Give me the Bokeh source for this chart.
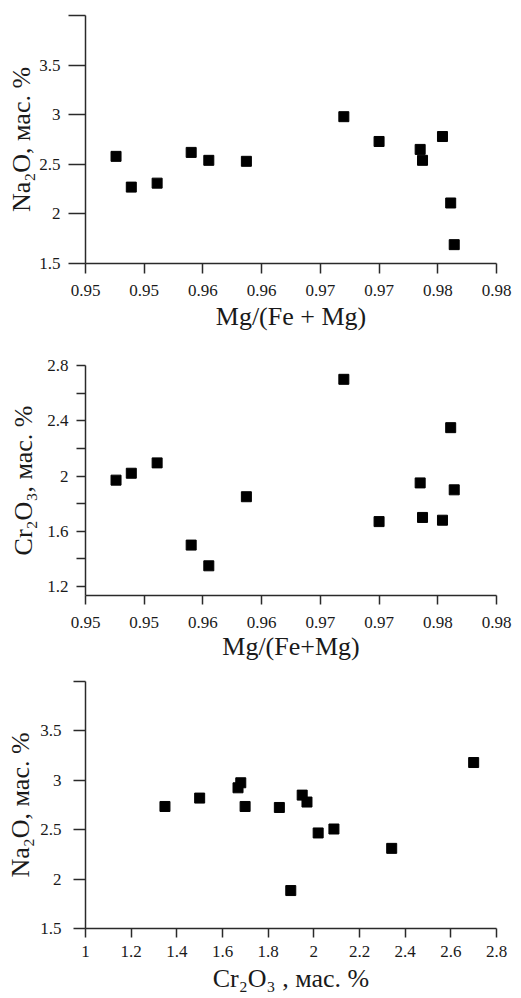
from bokeh.plotting import figure
from bokeh.layouts import column
from bokeh.models import Range1d, FixedTicker
from bokeh.embed import file_html
from bokeh.resources import INLINE

# ---------------- data ----------------
mg_fe_mg = [0.9526, 0.9539, 0.9561, 0.9590, 0.9605, 0.9637, 0.9720,
            0.9750, 0.9785, 0.9787, 0.9804, 0.9811, 0.9814]
na2o_a = [2.58, 2.27, 2.31, 2.62, 2.54, 2.53, 2.98,
          2.73, 2.65, 2.54, 2.78, 2.11, 1.69]
cr2o3_b = [1.97, 2.02, 2.095, 1.50, 1.35, 1.85, 2.70,
           1.67, 1.95, 1.70, 1.68, 2.35, 1.90]
cr2o3_c = [1.348, 1.50, 1.668, 1.680, 1.699, 1.849, 1.899,
           1.949, 1.970, 2.019, 2.088, 2.341, 2.70]
na2o_c = [2.735, 2.82, 2.924, 2.975, 2.735, 2.725, 1.884,
          2.85, 2.78, 2.467, 2.507, 2.311, 3.18]

mg_ticks = [0.950, 0.955, 0.960, 0.965, 0.970, 0.975, 0.980, 0.985]
mg_tick_labels = ["0.95", "0.95", "0.96", "0.96", "0.97", "0.97", "0.98", "0.98"]
na_ticks = [1.5, 2.0, 2.5, 3.0, 3.5, 4.0]
na_tick_labels = ["1.5", "2", "2.5", "3", "3.5", ""]
cr_ticks = [1.2, 1.6, 2.0, 2.4, 2.8]
cr_minor = [1.4, 1.8, 2.2, 2.6]
cr_tick_labels = ["1.2", "1.6", "2", "2.4", "2.8"]
crx_ticks = [1.0, 1.2, 1.4, 1.6, 1.8, 2.0, 2.2, 2.4, 2.6, 2.8]
crx_tick_labels = ["1", "1.2", "1.4", "1.6", "1.8", "2", "2.2", "2.4", "2.6", "2.8"]

FONT = "Liberation Serif"
INK = "#1a1a1a"
AX = "#2a2a2a"


def style_axis(ax, label, tick_out, std, lab_std, tick_size="17px"):
    ax.axis_label = label
    ax.axis_label_text_font = FONT
    ax.axis_label_text_font_size = "26px"
    ax.axis_label_text_font_style = "normal"
    ax.axis_label_text_color = INK
    ax.axis_label_standoff = lab_std
    ax.major_label_text_font = FONT
    ax.major_label_text_font_size = tick_size
    ax.major_label_text_font_style = "normal"
    ax.major_label_text_color = INK
    ax.major_label_standoff = std
    ax.axis_line_color = AX
    ax.axis_line_width = 1.5
    ax.major_tick_line_color = AX
    ax.major_tick_line_width = 1.5
    ax.major_tick_in = 0
    ax.major_tick_out = tick_out
    ax.minor_tick_line_color = None


def make_fig(height, top, bottom, right, xr, yr):
    p = figure(width=521, height=height, output_backend="svg",
               toolbar_location=None, x_range=Range1d(*xr), y_range=Range1d(*yr),
               min_border_left=85, min_border_right=right,
               min_border_top=top, min_border_bottom=bottom)
    p.grid.visible = False
    p.outline_line_color = None
    p.background_fill_color = "white"
    p.border_fill_color = "white"
    return p


# ---------- panel 1 ----------
p1 = make_fig(343, 15, 80, 23, (0.950, 0.985), (1.5, 4.0))
p1.scatter(mg_fe_mg, na2o_a, marker="square", size=10, color="black")
p1.xaxis.ticker = FixedTicker(ticks=mg_ticks)
p1.xaxis.major_label_overrides = dict(zip(mg_ticks, mg_tick_labels))
p1.yaxis.ticker = FixedTicker(ticks=na_ticks)
p1.yaxis.major_label_overrides = dict(zip(na_ticks, na_tick_labels))
style_axis(p1.xaxis[0], "Mg/(Fe + Mg)", 10, 11, 3)
style_axis(p1.yaxis[0], "Na\u2082O, мас. %", 17, 8, 0)

# ---------- panel 2 ----------
p2 = make_fig(324, 22, 72, 25, (0.950, 0.985), (1.135, 2.8))
p2.scatter(mg_fe_mg, cr2o3_b, marker="square", size=10, color="black")
p2.xaxis.ticker = FixedTicker(ticks=mg_ticks)
p2.xaxis.major_label_overrides = dict(zip(mg_ticks, mg_tick_labels))
p2.yaxis.ticker = FixedTicker(ticks=cr_ticks, minor_ticks=cr_minor)
p2.yaxis.major_label_overrides = dict(zip(cr_ticks, cr_tick_labels))
style_axis(p2.xaxis[0], "Mg/(Fe+Mg)", 9, 12, 1)
style_axis(p2.yaxis[0], "Cr\u2082O\u2083, мас. %", 9, 8, 6)
p2.yaxis[0].minor_tick_line_color = AX
p2.yaxis[0].minor_tick_line_width = 1.5
p2.yaxis[0].minor_tick_in = 0
p2.yaxis[0].minor_tick_out = 9

# ---------- panel 3 ----------
p3 = make_fig(331, 14, 70, 22, (1.0, 2.8), (1.5, 4.0))
p3.scatter(cr2o3_c, na2o_c, marker="square", size=10, color="black")
p3.xaxis.ticker = FixedTicker(ticks=crx_ticks)
p3.xaxis.major_label_overrides = dict(zip(crx_ticks, crx_tick_labels))
p3.yaxis.ticker = FixedTicker(ticks=na_ticks)
p3.yaxis.major_label_overrides = dict(zip(na_ticks, na_tick_labels))
style_axis(p3.xaxis[0], "Cr\u2082O\u2083 , мас. %", 9, 8, 4)
style_axis(p3.yaxis[0], "Na\u2082O, мас. %", 12, 12, 2)

layout = column(p1, p2, p3, spacing=0)
open("out.html", "w").write(file_html(layout, INLINE))
